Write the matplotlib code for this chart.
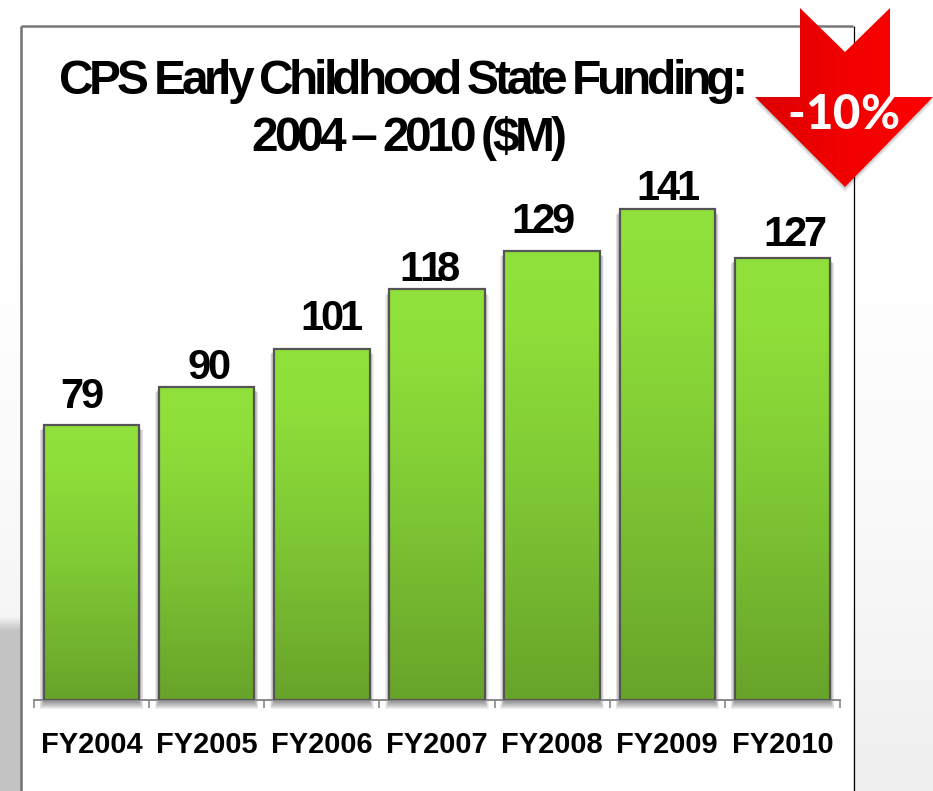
import numpy as np
import matplotlib
matplotlib.use("Agg")
import matplotlib.pyplot as plt
from matplotlib.colors import LinearSegmentedColormap
from matplotlib.patches import Polygon, Rectangle
from matplotlib.text import Text
from matplotlib.transforms import Bbox, offset_copy

plt.rcParams['font.family'] = ['Liberation Sans', 'DejaVu Sans']

years = ["FY2004", "FY2005", "FY2006", "FY2007", "FY2008", "FY2009", "FY2010"]
funding = [79, 90, 101, 118, 129, 141, 127]
title_lines = ["CPS Early Childhood State Funding:", "2004 \u2013 2010 ($M)"]
change_label = "-10%"

# hand placed value labels, pixels away from the middle of the bar top
label_dx = [-11, 1, 8, -9, -11, -1, 11]
label_dy = [17, 8, 19, 8, 18, 9, 12]

W, H = 933, 791
BASE_Y = 700
PX_PER_M = 3.48
BAR_W = 0.83


class TrackedText(Text):
    """Single line of text with a fixed pixel gap added between glyphs."""

    def __init__(self, *args, tracking=0, **kwargs):
        kwargs.setdefault("ha", "center")
        kwargs.setdefault("va", "baseline")
        super().__init__(*args, **kwargs)
        self.tracking = tracking

    def _offsets(self, renderer):
        fp = self.get_fontproperties()
        s = self.get_text()
        bar = renderer.get_text_width_height_descent("|", fp, False)[0]
        out = []
        for i in range(len(s) + 1):
            w = renderer.get_text_width_height_descent(s[:i] + "|", fp, False)[0]
            out.append(w - bar + i * self.tracking)
        return out

    def _get_layout(self, renderer):
        # report the tracked width so the extent follows what gets drawn
        bbox, info, descent = super()._get_layout(renderer)
        shrink = self.tracking * (len(self.get_text()) - 1)
        bbox = Bbox.from_bounds(bbox.x0 - shrink / 2, bbox.y0, bbox.width + shrink, bbox.height)
        return bbox, info, descent

    def draw(self, renderer):
        if not self.get_visible():
            return
        fp = self.get_fontproperties()
        x, y = self.get_transform().transform(self.get_position())
        off = self._offsets(renderer)
        gc = renderer.new_gc()
        gc.set_foreground(self.get_color())
        gc.set_antialiased(True)
        for ch, dx in zip(self.get_text(), off):
            if ch != " ":
                renderer.draw_text(gc, x - off[-1] / 2 + dx, renderer.height - y,
                                   ch, fp, 0, False)
        gc.restore()


fig = plt.figure(figsize=(W / 100, H / 100), dpi=100)

# page layer in pixel coordinates
bg = fig.add_axes([0, 0, 1, 1], zorder=0)
bg.set_xlim(0, W)
bg.set_ylim(H, 0)
bg.axis("off")

page = LinearSegmentedColormap.from_list("page", ["#ffffff", "#ffffff", "#f9f9f9", "#efefef"])
bg.imshow(np.linspace(0, 1, 256).reshape(-1, 1), cmap=page, extent=(0, W, H, 0), aspect="auto")

band = np.ones((80, 2, 4))
band[..., :3] = 0.76
band[..., 3] = np.clip((np.arange(80) - 6) / 14, 0, 1).reshape(-1, 1) * 0.95
bg.imshow(band, extent=(0, 21, 690, 610), aspect="auto", zorder=1)
bg.add_patch(Rectangle((0, 690), 21, H - 690, fc="#c4c4c4", ec="none", zorder=1))

bg.add_patch(Rectangle((21, 26), 832, H - 26, fc="white", ec="none", zorder=2))
bg.plot([21, 853], [26, 26], color="#777777", lw=1.8, zorder=3, solid_capstyle="butt")
bg.plot([21, 21], [26, H], color="#777777", lw=1.9, zorder=3, solid_capstyle="butt")
bg.plot([853.5, 853.5], [26, H], color="black", lw=0.9, zorder=3, solid_capstyle="butt")
bg.set_xlim(0, W)
bg.set_ylim(H, 0)

for line, cx, base in zip(title_lines, [401, 407], [94, 151]):
    bg.add_artist(TrackedText(cx, base, line, tracking=-4.2, color="black", fontsize=34.5,
                              fontweight="bold", transform=bg.transData, zorder=5))

# bar chart
ax = fig.add_axes([34 / W, 1 - BASE_Y / H, 806 / W, 674 / H], zorder=1)
ax.patch.set_alpha(0)
x = np.arange(len(years))
green = LinearSegmentedColormap.from_list(
    "green", [(0, "#68a32a"), (0.5, "#80ca35"), (0.85, "#8fdf3a"), (1, "#90e13b")])
grad = np.linspace(1, 0, 256).reshape(-1, 1)
dx_px = 1 / (806 / 7)
dy_px = 1 / PX_PER_M

for xi, v in zip(x, funding):
    # soft shadow under and beside the bar
    for k in range(1, 10):
        ax.add_patch(Rectangle((xi - BAR_W / 2 - (k * 0.6 - 1.5) * dx_px, -k * dy_px),
                               BAR_W + (k * 1.2 - 3) * dx_px, v + (k * 0.4) * dy_px,
                               fc="black", ec="none", alpha=0.06, clip_on=False, zorder=1))
    ax.imshow(grad, cmap=green, vmin=0, vmax=1, aspect="auto", zorder=2,
              extent=(xi - BAR_W / 2, xi + BAR_W / 2, 0, v))

ax.bar(x, funding, width=BAR_W, facecolor="none", edgecolor="#555555", linewidth=1.6, zorder=3)

for xi, v, dx, dy in zip(x, funding, label_dx, label_dy):
    tr = offset_copy(ax.transData, fig=fig, x=dx, y=dy, units="dots")
    ax.add_artist(TrackedText(xi, v, str(v), tracking=-3.2, color="black", fontsize=30,
                              fontweight="bold", transform=tr, zorder=5))

ax.set_xlim(-0.5, len(years) - 0.5)
ax.set_ylim(0, 674 / PX_PER_M)
for side in ["top", "left", "right"]:
    ax.spines[side].set_visible(False)
ax.spines["bottom"].set_color("#888888")
ax.spines["bottom"].set_linewidth(1.4)
ax.set_yticks([])
ax.set_xticks(x)
ax.set_xticklabels(years, fontsize=20.9, fontweight="bold", color="black")
ax.tick_params(axis="x", which="major", length=0, pad=22)
ax.set_xticks(np.arange(-0.5, len(years)), minor=True)
ax.tick_params(axis="x", which="minor", length=6, width=1.2, color="#888888")

# red down arrow on top of everything
top = fig.add_axes([0, 0, 1, 1], zorder=2)
top.patch.set_alpha(0)
top.axis("off")
arrow = [(800, 8), (845, 52), (890, 8), (890, 97), (933, 97), (845, 187), (755, 97), (800, 97)]
for k in range(1, 7):
    shifted = [(px, py + k * 0.9) for px, py in arrow]
    top.add_patch(Polygon(shifted, closed=True, fc="black", ec="none", alpha=0.04, zorder=1))
red = LinearSegmentedColormap.from_list("red", ["#dc0000", "#f20000", "#ff0000"])
img = top.imshow(np.linspace(0, 1, 256).reshape(1, -1), cmap=red, aspect="auto",
                 extent=(755, 933, 187, 8), zorder=2)
clip = Polygon(arrow, closed=True, transform=top.transData, fc="none", ec="none")
top.add_patch(clip)
img.set_clip_path(clip)
top.add_artist(TrackedText(843.5, 129, change_label, tracking=0, color="white", fontsize=34,
                           fontweight=900, family="Lato", transform=top.transData, zorder=3))
top.set_xlim(0, W)
top.set_ylim(H, 0)

fig.savefig("out.png", dpi=100)
